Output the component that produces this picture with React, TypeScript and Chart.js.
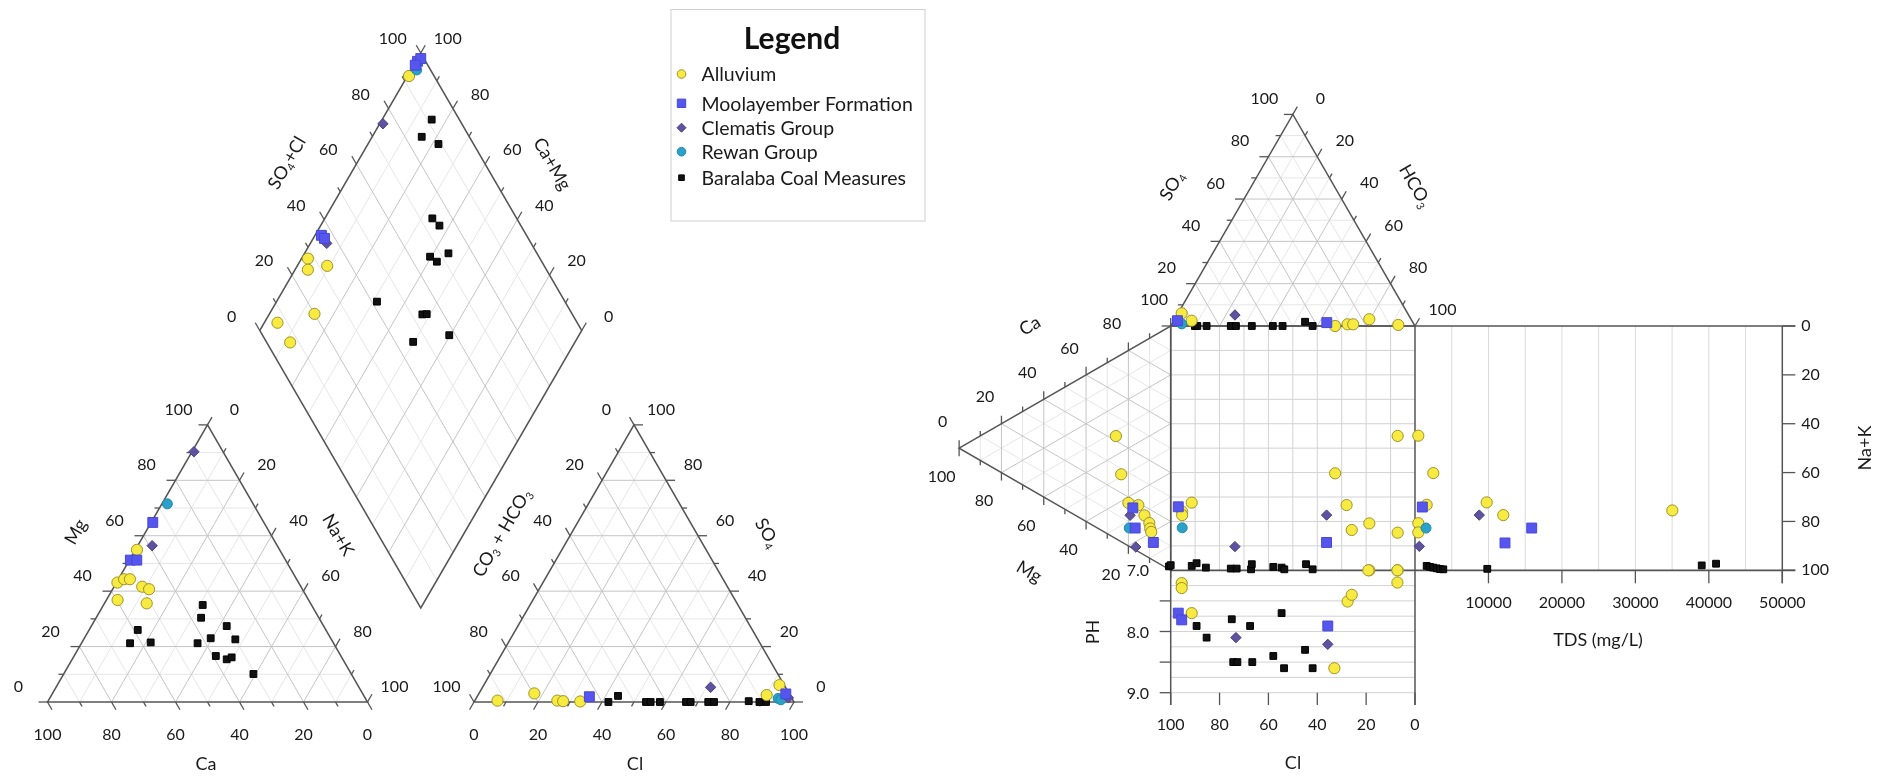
import { useEffect, useRef } from "react";
import { Chart, registerables } from "chart.js";
Chart.register(...registerables);

type Pair = [number, number];
type Pt = [number, number];
type Series = "alluvium" | "moolayember" | "clematis" | "rewan" | "baralaba";

const SERIES_KEYS: Series[] = ["alluvium", "moolayember", "clematis", "rewan", "baralaba"];
const SERIES_LABELS = ["Alluvium", "Moolayember Formation", "Clematis Group", "Rewan Group", "Baralaba Coal Measures"];

// Piper cation triangle: [Mg %, Na+K %]  (Ca is the remainder)
const piperCations: Record<Series, Pair[]> = {
  alluvium: [[54.9, 0.5], [43.1, 0.3], [44.3, 1.8], [44.3, 3.6], [41.6, 8.8], [40.7, 11.4], [36.8, 3.5], [35.6, 13.2]],
  moolayember: [[64.8, 0.5], [51.2, 0.3], [51.2, 2.3]],
  clematis: [[90.3, 0.6], [56.4, 4.5]],
  rewan: [[71.5, 1.7]],
  baralaba: [[26.0, 15.2], [21.2, 15.2], [21.5, 21.5], [35.0, 31.0], [30.4, 32.8], [21.2, 36.3], [23.0, 39.5], [27.4, 42.3], [22.6, 47.4], [16.6, 44.3], [15.4, 48.3], [16.1, 49.5], [10.1, 59.3]],
};

// Piper anion triangle: [SO4 %, Cl %]  (CO3+HCO3 is the remainder)
const piperAnions: Record<Series, Pair[]> = {
  alluvium: [[0.5, 7.1], [3.1, 17.3], [0.5, 25.8], [0.3, 27.7], [0.2, 33.1], [6.1, 92.4], [2.5, 90.2]],
  moolayember: [[1.9, 35.1], [2.9, 96.0]],
  clematis: [[5.3, 71.3], [1.5, 97.5]],
  rewan: [[1.3, 94.4], [0.8, 95.5]],
  baralaba: [[0, 42.0], [2.2, 43.9], [0, 53.75], [0, 55.2], [0, 58.1], [0, 66.25], [0, 67.7], [0, 73.2], [0, 75.0], [0.3, 85.7], [0, 89.2], [0, 91.25]],
};

// Piper diamond: [SO4+Cl %, Ca+Mg %]
const piperDiamond: Record<Series, Pair[]> = {
  alluvium: [[92.2, 99.5], [27.9, 98], [25.9, 96], [32.6, 90.7], [20, 86], [6.9, 95.9], [7.3, 88.4]],
  moolayember: [[97.5, 99.5], [99, 99], [96.1, 99.5], [36.3, 98], [36.7, 96.5]],
  clematis: [[75.5, 99], [36.5, 94.9]],
  rewan: [[95.7, 98.2]],
  baralaba: [[91.4, 84.6], [85.2, 84.6], [89.1, 78.1], [73.8, 66.6], [74.7, 63.1], [66.2, 60.4], [67.4, 57.4], [72.5, 55.3], [41.6, 68.8], [53.4, 52.4], [54.8, 51.1], [58, 40.3], [45.6, 50.3]],
};

// Durov anion triangle: [SO4 %, HCO3 %]  (Cl is the remainder)
const durovAnions: Record<Series, Pair[]> = {
  alluvium: [[6.0, 1.5], [2.5, 7.3], [0, 67.3], [0.8, 72.0], [0.8, 74.3], [3.2, 79.7], [0.5, 92.9]],
  moolayember: [[2.5, 1.5], [1.6, 63.1]],
  clematis: [[5.2, 23.7]],
  rewan: [[1.0, 4.0]],
  baralaba: [[0, 9.9], [0, 10.9], [0, 14.7], [0, 24.6], [0, 26.7], [0, 33.2], [0, 41.8], [0, 45.8], [2, 54], [0, 58.1]],
};

// Durov cation triangle: [Mg %, Na+K %]  (Ca is the remainder)
const durovCations: Record<Series, Pair[]> = {
  alluvium: [[25.9, 32.1], [23.4, 49], [20, 62.4], [15.3, 65.7], [12.4, 71.3], [10.1, 75.6], [9.7, 78], [9.2, 79.7]],
  moolayember: [[17.9, 65.5], [16.8, 74.3], [8.2, 84.5]],
  clematis: [[19.2, 67.9], [16.5, 82.2]],
  rewan: [[19.6, 72.9]],
  baralaba: [[0.8, 98]],
};

// Durov central square: [Cl %, Na+K %]
const durovSquare: Record<Series, Pair[]> = {
  alluvium: [[91.4, 72.3], [95.3, 76.0], [95.3, 77.4], [32.7, 60.3], [28.0, 73.3], [25.9, 83.5], [18.7, 80.8], [7.1, 45.0], [7.1, 84.6], [18.7, 100], [7.1, 100]],
  moolayember: [[96.9, 74.0], [36.2, 88.6]],
  clematis: [[36.2, 77.4], [73.7, 90.3]],
  rewan: [[95.3, 82.6]],
  baralaba: [[100, 97.9], [91.4, 98.2], [89.4, 97.1], [85.6, 98.9], [75.4, 99.3], [73.0, 99.3], [67.1, 99.6], [66.8, 97.5], [58.0, 98.6], [54.6, 98.9], [53.5, 99.6], [44.6, 97.5], [41.9, 99.6]],
};

// Durov TDS panel: [TDS mg/L, Na+K %]
const durovTds: Record<Series, Pair[]> = {
  alluvium: [[450, 44.9], [2490, 60.2], [1590, 73.2], [450, 80.7], [450, 84.5], [9760, 72.2], [12020, 77.4], [35030, 75.5]],
  moolayember: [[1000, 74.1], [15890, 82.7], [12250, 88.8]],
  clematis: [[590, 90.2], [8750, 77.4]],
  rewan: [[1500, 82.7]],
  baralaba: [[39030, 98.0], [40980, 97.3], [9840, 99.4], [1590, 98.2], [2040, 98.6], [2490, 98.9], [2950, 99.2], [3400, 99.5], [3850, 99.6]],
};

// Durov pH panel: [Cl %, pH]
const durovPh: Record<Series, Pair[]> = {
  alluvium: [[95.5, 7.21], [95.5, 7.29], [91.4, 7.70], [33.0, 8.60], [27.6, 7.51], [25.9, 7.40], [19.1, 7.0], [7.2, 7.0], [7.2, 7.20]],
  moolayember: [[96.9, 7.70], [95.5, 7.81], [35.7, 7.91]],
  clematis: [[73.3, 8.10], [35.7, 8.21]],
  rewan: [],
  baralaba: [[89.4, 7.91], [85.3, 8.10], [75.0, 7.80], [67.5, 7.91], [54.6, 7.70], [74.4, 8.50], [72.7, 8.50], [66.6, 8.50], [58.0, 8.40], [53.6, 8.60], [45.0, 8.30], [41.9, 8.60]],
};

const TERNARY_TICKS = [0, 20, 40, 60, 80, 100];
const TDS_TICKS = [10000, 20000, 30000, 40000, 50000];
const NAK_TICKS = [0, 20, 40, 60, 80, 100];
const CL_TICKS = [100, 80, 60, 40, 20, 0];
const PH_TICKS = [7.0, 8.0, 9.0];
const TDS_MAX = 50000;
const PH_MIN = 7;
const PH_MAX = 9;

// ---------- layout geometry (page pixel space) ----------
const SQ3 = Math.sqrt(3) / 2;
const PS = 320; // piper triangle side
const CAT = { ca: [47.5, 702] as Pt, nak: [47.5 + PS, 702] as Pt, mg: [47.5 + PS / 2, 702 - PS * SQ3] as Pt };
const AN = { hco3: [474, 702] as Pt, cl: [474 + PS, 702] as Pt, so4: [474 + PS / 2, 702 - PS * SQ3] as Pt };
const DIA = { b: [420.75, 608] as Pt, l: [259.75, 330.5] as Pt, t: [420.75, 53] as Pt, r: [581.75, 330.5] as Pt };
const DS = 244.3;
const DO: Pt = [1170.7, 326];
const DT = { cl: DO, hco3: [DO[0] + DS, DO[1]] as Pt, so4: [DO[0] + DS / 2, DO[1] - DS * SQ3] as Pt };
const DL = { mg: [DO[0] - DS * SQ3, DO[1] + DS / 2] as Pt, ca: DO, nak: [DO[0], DO[1] + DS] as Pt };
const TDS_X0 = DO[0] + DS;
const TDS_X1 = 1782.3;
const PH_Y0 = DO[1] + DS;
const PH_Y1 = 692.7;

const lerp = (a: Pt, b: Pt, t: number): Pt => [a[0] + (b[0] - a[0]) * t, a[1] + (b[1] - a[1]) * t];
const tern = (A: Pt, B: Pt, C: Pt, a: number, b: number, c: number): Pt => [
  A[0] * a + B[0] * b + C[0] * c,
  A[1] * a + B[1] * b + C[1] * c,
];

const cationXY = ([mg, nak]: Pair): Pt => tern(CAT.mg, CAT.nak, CAT.ca, mg / 100, nak / 100, (100 - mg - nak) / 100);
const anionXY = ([so4, cl]: Pair): Pt => tern(AN.so4, AN.cl, AN.hco3, so4 / 100, cl / 100, (100 - so4 - cl) / 100);
const diamondXY = ([ac, cm]: Pair): Pt => [
  DIA.b[0] + (ac / 100) * (DIA.r[0] - DIA.b[0]) + (cm / 100) * (DIA.l[0] - DIA.b[0]),
  DIA.b[1] + (ac / 100) * (DIA.r[1] - DIA.b[1]) + (cm / 100) * (DIA.l[1] - DIA.b[1]),
];
const durovTopXY = ([so4, hco3]: Pair): Pt => tern(DT.so4, DT.hco3, DT.cl, so4 / 100, hco3 / 100, (100 - so4 - hco3) / 100);
const durovLeftXY = ([mg, nak]: Pair): Pt => tern(DL.mg, DL.nak, DL.ca, mg / 100, nak / 100, (100 - mg - nak) / 100);
const squareXY = ([cl, nak]: Pair): Pt => [DO[0] + ((100 - cl) / 100) * DS, DO[1] + (nak / 100) * DS];
const tdsXY = ([tds, nak]: Pair): Pt => [TDS_X0 + (tds / TDS_MAX) * (TDS_X1 - TDS_X0), DO[1] + (nak / 100) * DS];
const phXY = ([cl, ph]: Pair): Pt => [DO[0] + ((100 - cl) / 100) * DS, PH_Y0 + ((ph - PH_MIN) / (PH_MAX - PH_MIN)) * (PH_Y1 - PH_Y0)];

const STYLE: Record<Series, { ps: string; r: number; bg: string; bd: string; order: number }> = {
  alluvium: { ps: "circle", r: 5.6, bg: "#F7EA40", bd: "#A0922A", order: 4 },
  moolayember: { ps: "rect", r: 7, bg: "#5656EE", bd: "#4848D6", order: 1 },
  clematis: { ps: "rectRot", r: 5.2, bg: "#5F529F", bd: "#4A3F86", order: 2 },
  rewan: { ps: "circle", r: 5, bg: "#2AA1C6", bd: "#1E88AC", order: 3 },
  baralaba: { ps: "rect", r: 4.8, bg: "#111111", bd: "#000000", order: 5 },
};

const AXIS = "#555555";
const MAJOR = "#c4c4c4";
const MINOR = "#e6e6e6";
const TEXT = "#1a1a1a";
const FONT = 'Lato, "Open Sans", sans-serif';
const TICK_SIZE = 16;
const TITLE_SIZE = 18;

const chromePlugin = {
  id: "chrome",
  beforeDatasetsDraw(chart: any) {
    const ctx: CanvasRenderingContext2D = chart.ctx;
    const xs = chart.scales.x;
    const ys = chart.scales.y;
    const P = (p: Pt): Pt => [xs.getPixelForValue(p[0]), ys.getPixelForValue(p[1])];
    const line = (a: Pt, b: Pt, color: string, w: number) => {
      const A = P(a), B = P(b);
      ctx.strokeStyle = color;
      ctx.lineWidth = w;
      ctx.beginPath();
      ctx.moveTo(A[0], A[1]);
      ctx.lineTo(B[0], B[1]);
      ctx.stroke();
    };
    const poly = (pts: Pt[], color: string, w: number) => {
      ctx.strokeStyle = color;
      ctx.lineWidth = w;
      ctx.beginPath();
      pts.forEach((p, i) => {
        const q = P(p);
        if (i === 0) ctx.moveTo(q[0], q[1]);
        else ctx.lineTo(q[0], q[1]);
      });
      ctx.closePath();
      ctx.stroke();
    };
    const text = (s: string, p: Pt, size = TICK_SIZE, align: CanvasTextAlign = "center", rot = 0) => {
      const q = P(p);
      ctx.save();
      ctx.translate(q[0], q[1]);
      ctx.rotate(rot);
      ctx.fillStyle = TEXT;
      ctx.font = `${size}px ${FONT}`;
      ctx.textAlign = align;
      ctx.textBaseline = "middle";
      ctx.fillText(s, 0, 0);
      ctx.restore();
    };
    const rich = (parts: [string, boolean][], p: Pt, rot: number, size = TITLE_SIZE) => {
      const q = P(p);
      ctx.save();
      ctx.translate(q[0], q[1]);
      ctx.rotate(rot);
      ctx.fillStyle = TEXT;
      ctx.textBaseline = "middle";
      ctx.textAlign = "left";
      let w = 0;
      const ws: number[] = [];
      for (const [t, sub] of parts) {
        ctx.font = `${sub ? size * 0.6 : size}px ${FONT}`;
        const m = ctx.measureText(t).width;
        ws.push(m);
        w += m;
      }
      let cx = -w / 2;
      parts.forEach(([t, sub], i) => {
        ctx.font = `${sub ? size * 0.6 : size}px ${FONT}`;
        ctx.fillText(t, cx, sub ? size * 0.32 : 0);
        cx += ws[i];
      });
      ctx.restore();
    };
    const triGrid = (V: Pt[]) => {
      for (const pass of [0, 1]) {
        for (let k = 0; k < 3; k++) {
          const A = V[k], B = V[(k + 1) % 3], C = V[(k + 2) % 3];
          for (let v = 10; v < 100; v += 10) {
            const major = v % 20 === 0;
            if ((pass === 1) !== major) continue;
            line(lerp(B, A, v / 100), lerp(C, A, v / 100), major ? MAJOR : MINOR, 1);
          }
        }
      }
      poly(V, AXIS, 1.5);
    };
    const axisTicks = (from: Pt, to: Pt, dir: Pt, off: Pt, skip: number[] = [], majLen = 9) => {
      for (let v = 0; v <= 100; v += 10) {
        const p = lerp(from, to, v / 100);
        const major = v % 20 === 0;
        const len = major ? majLen : 5;
        line(p, [p[0] + dir[0] * len, p[1] + dir[1] * len], AXIS, 1.3);
      }
      for (const v of TERNARY_TICKS) {
        if (skip.includes(v)) continue;
        const p = lerp(from, to, v / 100);
        text(String(v), [p[0] + off[0], p[1] + off[1]]);
      }
    };
    const up60: Pt = [0.5, -SQ3];
    const upl60: Pt = [-0.5, -SQ3];
    const dn60: Pt = [0.5, SQ3];
    const dnl60: Pt = [-0.5, SQ3];

    // ---------- Piper cation triangle ----------
    triGrid([CAT.ca, CAT.nak, CAT.mg]);
    axisTicks(CAT.ca, CAT.mg, [-1, 0], [-29, -15]);
    axisTicks(CAT.mg, CAT.nak, up60, [27, -15]);
    axisTicks(CAT.nak, CAT.ca, dn60, [0, 33]);
    rich([["Mg", false]], [76, 532], -Math.PI / 3);
    rich([["Na+K", false]], [338, 535], Math.PI / 3);
    rich([["Ca", false]], [206, 764], 0);

    // ---------- Piper anion triangle ----------
    triGrid([AN.hco3, AN.cl, AN.so4]);
    axisTicks(AN.so4, AN.hco3, upl60, [-27.5, -15]);
    axisTicks(AN.cl, AN.so4, [1, 0], [27, -15]);
    axisTicks(AN.hco3, AN.cl, dnl60, [0, 33]);
    rich([["CO", false], ["3", true], [" + HCO", false], ["3", true]], [502, 533], -Math.PI / 3);
    rich([["SO", false], ["4", true]], [767, 533], Math.PI / 3);
    rich([["Cl", false]], [635, 764], 0);

    // ---------- Piper diamond ----------
    const D = DIA;
    const vL: Pt = [D.l[0] - D.b[0], D.l[1] - D.b[1]];
    const vR: Pt = [D.r[0] - D.b[0], D.r[1] - D.b[1]];
    for (const pass of [0, 1]) {
      for (let v = 10; v < 100; v += 10) {
        const major = v % 20 === 0;
        if ((pass === 1) !== major) continue;
        const col = major ? MAJOR : MINOR;
        const a1 = lerp(D.b, D.r, v / 100);
        line(a1, [a1[0] + vL[0], a1[1] + vL[1]], col, 1);
        const c1 = lerp(D.b, D.l, v / 100);
        line(c1, [c1[0] + vR[0], c1[1] + vR[1]], col, 1);
      }
    }
    poly([D.b, D.r, D.t, D.l], AXIS, 1.5);
    axisTicks(D.l, D.t, upl60, [-28, -14]);
    axisTicks(D.r, D.t, up60, [27, -14]);
    rich([["SO", false], ["4", true], ["+Cl", false]], [287, 163], -Math.PI / 3);
    rich([["Ca+Mg", false]], [552, 164], Math.PI / 3);

    // ---------- Durov square grid ----------
    for (let k = 1; k < 10; k++) {
      const x = DO[0] + (k / 10) * DS;
      line([x, DO[1]], [x, DO[1] + DS], "#d2d2d2", 1);
      const y = DO[1] + (k / 10) * DS;
      line([DO[0], y], [DO[0] + DS, y], "#d2d2d2", 1);
    }
    for (let ph = PH_MIN + 0.25; ph <= PH_MAX + 0.001; ph += 0.25) {
      const y = phXY([0, ph])[1];
      line([DO[0], y], [DO[0] + DS, y], "#d2d2d2", 1);
    }
    for (let t = 5000; t < TDS_MAX; t += 5000) {
      const x = tdsXY([t, 0])[0];
      line([x, DO[1]], [x, DO[1] + DS], "#dadada", 1);
    }

    // ---------- Durov triangles ----------
    triGrid([DT.cl, DT.hco3, DT.so4]);
    axisTicks(DT.cl, DT.so4, [-1, 0], [-28.5, -15.5], [0]);
    axisTicks(DT.so4, DT.hco3, up60, [27.5, -16]);
    rich([["SO", false], ["4", true]], [1172, 186], -Math.PI / 3);
    rich([["HCO", false], ["3", true]], [1415, 186], Math.PI / 3);

    triGrid([DL.mg, DL.ca, DL.nak]);
    axisTicks(DL.mg, DL.ca, [0, -1], [-16.5, -26.5], [], 8);
    axisTicks(DL.nak, DL.mg, [0, 1], [-17.5, 28.5], [0], 8);
    rich([["Ca", false]], [1030, 326], -Math.PI / 6);
    rich([["Mg", false]], [1029, 572], Math.PI / 6);

    // ---------- Durov frame lines ----------
    const yB = DO[1] + DS;
    line([DO[0], DO[1]], [DO[0], 705], AXIS, 1.5);
    line([TDS_X0, DO[1]], [TDS_X0, 705], AXIS, 1.5);
    line([DO[0], DO[1]], [TDS_X1 + 13, DO[1]], AXIS, 1.5);
    line([DO[0], yB], [TDS_X1 + 13, yB], AXIS, 1.7);
    line([TDS_X1, DO[1]], [TDS_X1, yB + 13], AXIS, 1.5);
    for (const v of NAK_TICKS) {
      const y = DO[1] + (v / 100) * DS;
      line([TDS_X1, y], [TDS_X1 + 13, y], AXIS, 1.3);
      text(String(v), [TDS_X1 + 19, y], TICK_SIZE, "left");
    }
    text("Na+K", [1865, 448], TITLE_SIZE, "center", -Math.PI / 2);
    for (const t of TDS_TICKS) {
      const x = tdsXY([t, 0])[0];
      line([x, yB], [x, yB + 13], AXIS, 1.3);
      text(String(t), [x, 603]);
    }
    text("TDS (mg/L)", [1598, 640], TITLE_SIZE);
    for (let ph = 7.5; ph <= PH_MAX + 0.001; ph += 0.5) {
      const y = phXY([0, ph])[1];
      line([DO[0] - 11, y], [DO[0], y], AXIS, 1.3);
    }
    for (const ph of PH_TICKS) {
      const y = phXY([0, ph])[1];
      text(ph.toFixed(1), [1149, y + 1], TICK_SIZE, "right");
    }
    text("PH", [1093, 632], TITLE_SIZE, "center", -Math.PI / 2);
    for (const c of CL_TICKS) {
      const x = phXY([c, 7])[0];
      line([x, PH_Y1], [x, 705], AXIS, 1.3);
      text(String(c), [x, 725]);
    }
    text("Cl", [1293, 763], TITLE_SIZE);
  },
  afterDatasetsDraw(chart: any) {
    const ctx: CanvasRenderingContext2D = chart.ctx;
    const xs = chart.scales.x;
    const ys = chart.scales.y;
    const X = (v: number) => xs.getPixelForValue(v);
    const Y = (v: number) => ys.getPixelForValue(v);
    const x0 = X(670.5), y0 = Y(9), x1 = X(924.5), y1 = Y(220.5);
    ctx.fillStyle = "#ffffff";
    ctx.fillRect(x0, y0, x1 - x0, y1 - y0);
    ctx.strokeStyle = "#cfcfcf";
    ctx.lineWidth = 1;
    ctx.strokeRect(x0 + 0.5, y0 + 0.5, x1 - x0, y1 - y0);
    ctx.fillStyle = "#111";
    ctx.font = `bold 30px ${FONT}`;
    ctx.textAlign = "center";
    ctx.textBaseline = "middle";
    ctx.fillText("Legend", X(792), Y(39));
    const rows = [74, 103.3, 127.7, 151.7, 177.7];
    SERIES_KEYS.forEach((k, i) => {
      const st = STYLE[k];
      const cx = X(681.5), cy = Y(rows[i]);
      ctx.fillStyle = st.bg;
      ctx.strokeStyle = st.bd;
      ctx.lineWidth = 1;
      ctx.beginPath();
      if (st.ps === "circle") ctx.arc(cx, cy, 4.3, 0, Math.PI * 2);
      else if (st.ps === "rectRot") {
        ctx.moveTo(cx, cy - 4.5);
        ctx.lineTo(cx + 4.5, cy);
        ctx.lineTo(cx, cy + 4.5);
        ctx.lineTo(cx - 4.5, cy);
        ctx.closePath();
      } else {
        const h = k === "baralaba" ? 2.8 : 4.2;
        ctx.rect(cx - h, cy - h, 2 * h, 2 * h);
      }
      ctx.fill();
      ctx.stroke();
      ctx.fillStyle = "#1a1a1a";
      ctx.font = `19.5px ${FONT}`;
      ctx.textAlign = "left";
      ctx.fillText(SERIES_LABELS[i], X(701.5), cy + 1);
    });
  },
};

function buildDatasets() {
  return SERIES_KEYS.map((k, i) => {
    const st = STYLE[k];
    const pts: Pt[] = [
      ...piperCations[k].map(cationXY),
      ...piperAnions[k].map(anionXY),
      ...piperDiamond[k].map(diamondXY),
      ...durovAnions[k].map(durovTopXY),
      ...durovCations[k].map(durovLeftXY),
      ...durovSquare[k].map(squareXY),
      ...durovTds[k].map(tdsXY),
      ...durovPh[k].map(phXY),
    ];
    return {
      label: SERIES_LABELS[i],
      data: pts.map(([x, y]) => ({ x, y })),
      pointStyle: st.ps,
      pointRadius: st.r,
      pointBackgroundColor: st.bg,
      pointBorderColor: st.bd,
      pointBorderWidth: 1,
      showLine: false,
      clip: false as any,
      order: st.order,
    };
  });
}

export default function App() {
  const ref = useRef<HTMLCanvasElement>(null);
  useEffect(() => {
    if (!ref.current) return;
    const chart = new Chart(ref.current, {
      type: "scatter",
      data: { datasets: buildDatasets() as any },
      options: {
        responsive: false,
        animation: false,
        events: [],
        layout: { padding: 0, autoPadding: false },
        scales: {
          x: { type: "linear", min: 8, max: 1882, display: false },
          y: { type: "linear", min: 8, max: 778, reverse: true, display: false },
        },
        plugins: { legend: { display: false }, tooltip: { enabled: false }, title: { display: false } },
      },
      plugins: [chromePlugin as any],
    });
    return () => chart.destroy();
  }, []);
  return <canvas ref={ref} width={1874} height={770} style={{ display: "block", marginBottom: -8 }} />;
}
